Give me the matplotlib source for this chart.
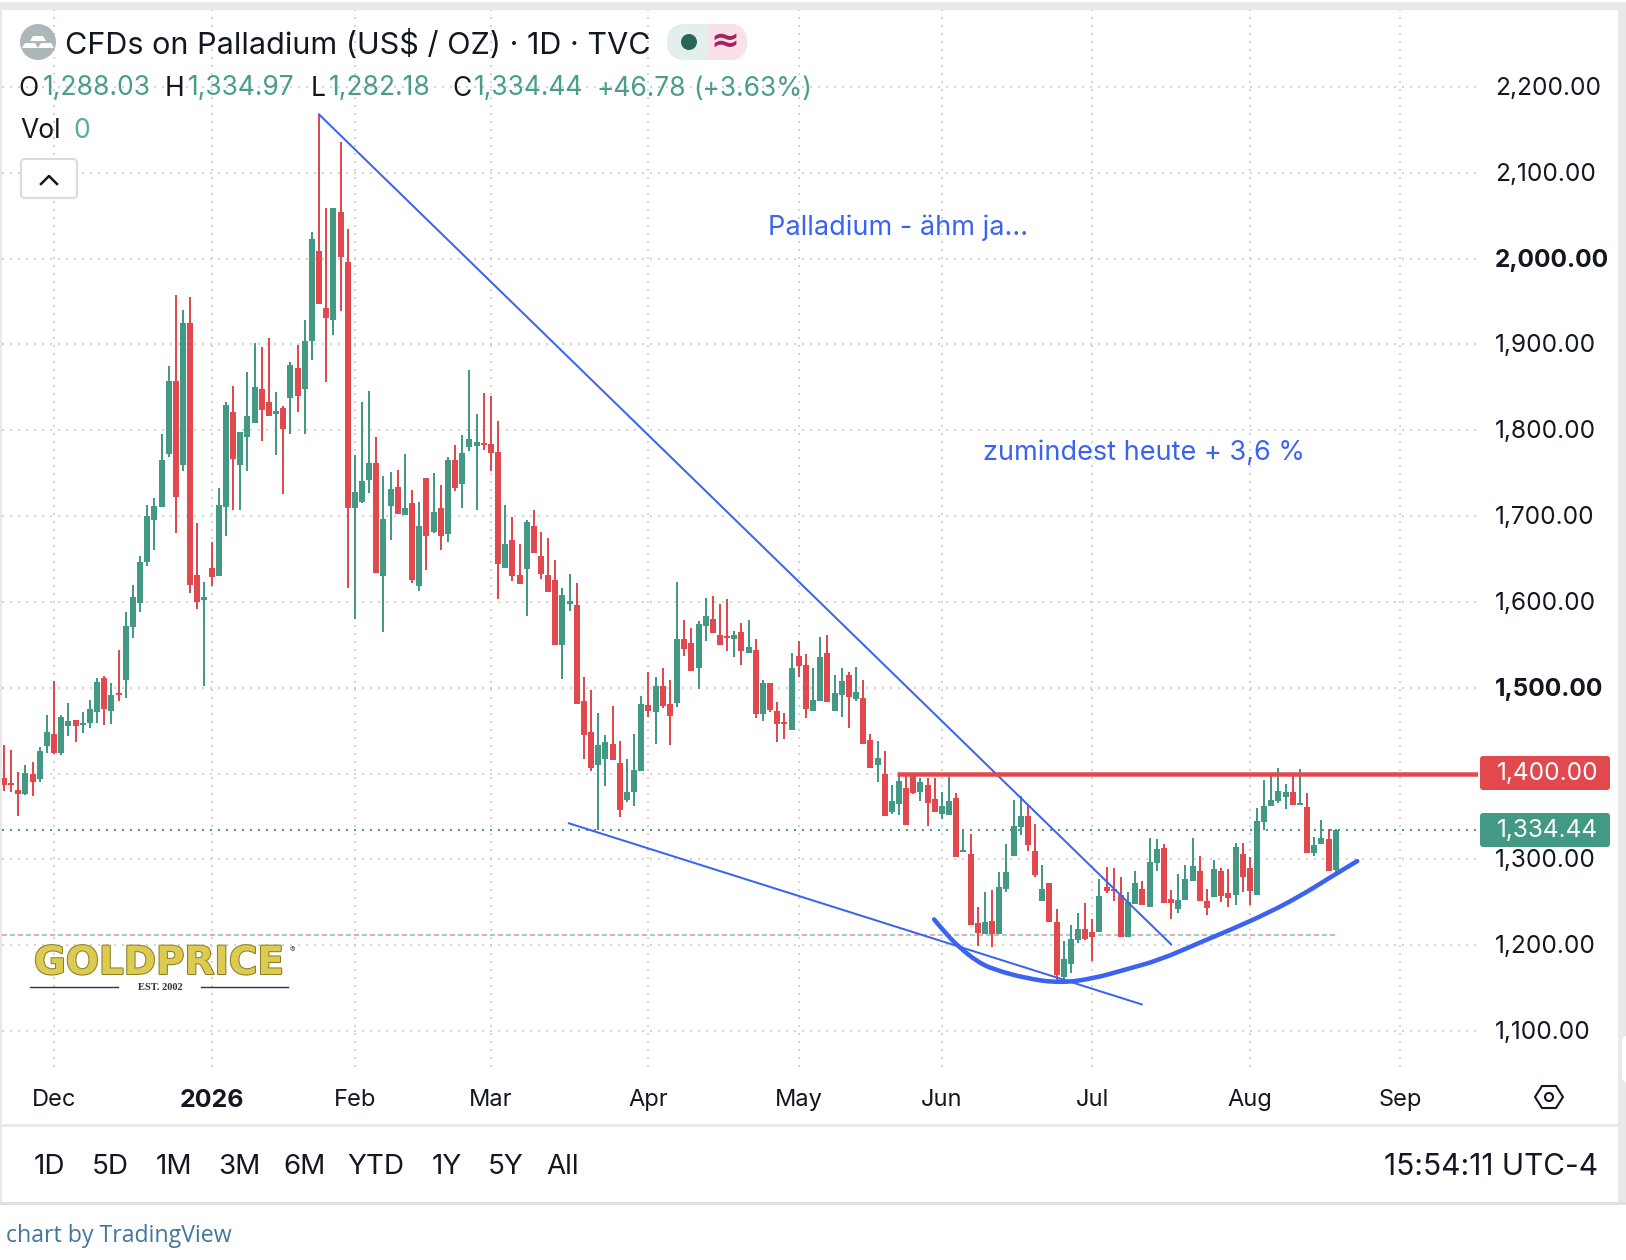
"""Palladium daily candles with trend lines, TradingView widget look."""

import matplotlib
matplotlib.use("Agg")
import matplotlib.patheffects as pe
import matplotlib.pyplot as plt
import matplotlib.transforms as mtransforms
import numpy as np
from matplotlib.patches import Circle, FancyBboxPatch, PathPatch, Polygon, Rectangle
from matplotlib.path import Path

plt.rcParams["font.family"] = ["Inter", "DejaVu Sans"]

# ---------------------------------------------------------------------------
# Data (bar index, prices in US$/oz)
# ---------------------------------------------------------------------------
opens = [
    1395, 1389, 1381, 1376, 1399, 1394, 1432, 1446, 1424, 1455,
    1462, 1456, 1459, 1472, 1511, 1473, 1494, 1509, 1571, 1599,
    1646, 1695, 1711, 1772, 1857, 1760, 1925, 1631, 1602, 1639,
    1630, 1711, 1821, 1759, 1792, 1809, 1848, 1833, 1819, 1826,
    1838, 1873, 1848, 1904, 2009, 1943, 1928, 2054, 1996, 1709,
    1716, 1742, 1762, 1630, 1712, 1734, 1701, 1715, 1619, 1744,
    1681, 1709, 1679, 1765, 1737, 1780, 1782, 1785, 1784, 1775,
    1640, 1672, 1631, 1638, 1688, 1653, 1631, 1626, 1550, 1597,
    1596, 1484, 1448, 1410, 1417, 1434, 1412, 1369, 1378, 1403,
    1480, 1472, 1502, 1481, 1482, 1557, 1552, 1523, 1572, 1580,
    1562, 1560, 1557, 1565, 1541, 1544, 1469, 1505, 1473, 1460,
    1451, 1537, 1527, 1473, 1484, 1541, 1473, 1492, 1515, 1487,
    1488, 1439, 1410, 1399, 1355, 1364, 1383, 1397, 1379, 1387,
    1370, 1353, 1352, 1371, 1308, 1306, 1226, 1213, 1228, 1213,
    1266, 1304, 1338, 1350, 1310, 1251, 1272, 1227, 1163, 1178,
    1206, 1219, 1215, 1215, 1268, 1265, 1259, 1209, 1248, 1265,
    1245, 1296, 1313, 1254, 1242, 1253, 1275, 1286, 1251, 1256,
    1286, 1261, 1259, 1306, 1290, 1258, 1343, 1362, 1368, 1373,
    1378, 1363, 1361, 1307, 1318, 1324, 1288.03,
]
highs = [
    1433, 1427, 1402, 1410, 1414, 1431, 1468, 1508, 1468, 1482,
    1462, 1472, 1486, 1511, 1514, 1505, 1544, 1588, 1620, 1653,
    1713, 1721, 1796, 1875, 1958, 1940, 1955, 1692, 1623, 1670,
    1733, 1833, 1852, 1798, 1868, 1902, 1897, 1908, 1844, 1828,
    1879, 1899, 1929, 2031, 2168, 2059, 2059, 2136, 2035, 1771,
    1833, 1846, 1792, 1747, 1751, 1754, 1772, 1730, 1716, 1744,
    1750, 1736, 1769, 1783, 1795, 1870, 1819, 1843, 1840, 1811,
    1713, 1699, 1668, 1695, 1707, 1682, 1674, 1649, 1616, 1632,
    1622, 1512, 1497, 1471, 1445, 1479, 1438, 1417, 1446, 1490,
    1518, 1512, 1523, 1509, 1623, 1579, 1569, 1578, 1604, 1607,
    1597, 1603, 1566, 1575, 1579, 1557, 1509, 1505, 1483, 1471,
    1541, 1554, 1539, 1523, 1559, 1561, 1515, 1523, 1518, 1524,
    1509, 1446, 1438, 1426, 1387, 1399, 1397, 1398, 1395, 1395,
    1395, 1378, 1396, 1377, 1335, 1330, 1244, 1262, 1264, 1285,
    1318, 1369, 1374, 1363, 1341, 1293, 1273, 1242, 1205, 1223,
    1237, 1249, 1231, 1277, 1291, 1290, 1279, 1262, 1287, 1275,
    1325, 1324, 1318, 1264, 1283, 1294, 1325, 1304, 1265, 1299,
    1290, 1289, 1319, 1319, 1303, 1360, 1392, 1398, 1406, 1388,
    1400, 1405, 1377, 1326, 1346, 1335, 1334.97,
]
lows = [
    1380, 1378, 1350, 1375, 1374, 1390, 1424, 1423, 1422, 1444,
    1437, 1447, 1453, 1459, 1456, 1458, 1484, 1488, 1558, 1588,
    1642, 1660, 1711, 1769, 1680, 1753, 1610, 1592, 1502, 1618,
    1630, 1677, 1707, 1707, 1752, 1809, 1787, 1817, 1771, 1726,
    1796, 1821, 1796, 1882, 1947, 1856, 1911, 1939, 1616, 1580,
    1715, 1727, 1634, 1565, 1672, 1702, 1701, 1622, 1613, 1637,
    1680, 1661, 1670, 1729, 1709, 1776, 1707, 1777, 1752, 1603,
    1640, 1624, 1621, 1583, 1657, 1627, 1612, 1550, 1510, 1589,
    1481, 1417, 1403, 1334, 1386, 1416, 1349, 1367, 1362, 1403,
    1466, 1434, 1476, 1433, 1477, 1537, 1520, 1498, 1555, 1564,
    1550, 1543, 1536, 1527, 1541, 1465, 1461, 1472, 1437, 1440,
    1451, 1512, 1465, 1473, 1484, 1483, 1473, 1466, 1453, 1485,
    1434, 1406, 1390, 1350, 1353, 1352, 1340, 1376, 1368, 1339,
    1355, 1347, 1352, 1303, 1308, 1224, 1199, 1213, 1198, 1213,
    1262, 1304, 1328, 1310, 1279, 1251, 1227, 1158, 1160, 1167,
    1202, 1206, 1181, 1215, 1261, 1251, 1210, 1209, 1248, 1247,
    1245, 1286, 1249, 1230, 1237, 1253, 1275, 1251, 1235, 1256,
    1250, 1244, 1247, 1262, 1247, 1258, 1334, 1362, 1366, 1359,
    1363, 1363, 1307, 1304, 1318, 1286, 1282.18,
]
closes = [
    1387, 1387, 1376, 1401, 1390, 1426, 1448, 1424, 1466, 1461,
    1455, 1459, 1475, 1507, 1475, 1491, 1491, 1572, 1606, 1646,
    1700, 1712, 1765, 1857, 1722, 1925, 1620, 1600, 1606, 1629,
    1713, 1829, 1766, 1798, 1817, 1850, 1824, 1817, 1822, 1802,
    1876, 1840, 1904, 2023, 1947, 1931, 2059, 2002, 1709, 1728,
    1741, 1762, 1634, 1696, 1731, 1702, 1709, 1625, 1688, 1677,
    1705, 1677, 1765, 1733, 1773, 1790, 1786, 1783, 1773, 1644,
    1667, 1630, 1621, 1693, 1657, 1633, 1612, 1550, 1608, 1601,
    1481, 1445, 1407, 1433, 1437, 1416, 1357, 1379, 1404, 1481,
    1473, 1502, 1479, 1467, 1557, 1545, 1520, 1574, 1583, 1564,
    1550, 1558, 1562, 1543, 1547, 1469, 1505, 1474, 1458, 1458,
    1523, 1525, 1475, 1486, 1536, 1483, 1494, 1508, 1489, 1495,
    1434, 1406, 1418, 1350, 1368, 1391, 1340, 1377, 1390, 1366,
    1355, 1362, 1368, 1303, 1311, 1224, 1214, 1227, 1213, 1268,
    1285, 1339, 1350, 1317, 1282, 1266, 1227, 1165, 1184, 1207,
    1219, 1207, 1210, 1257, 1263, 1263, 1210, 1250, 1273, 1247,
    1297, 1312, 1249, 1249, 1253, 1277, 1292, 1251, 1243, 1289,
    1257, 1255, 1314, 1279, 1263, 1345, 1362, 1369, 1380, 1378,
    1363, 1366, 1307, 1317, 1325, 1286, 1334.44,
]

month_pos = [7, 29, 49, 68, 90, 111, 131, 152, 174, 195]
month_labels = ["Dec", "2026", "Feb", "Mar", "Apr", "May", "Jun", "Jul", "Aug", "Sep"]
price_ticks = [1100, 1200, 1300, 1400, 1500, 1600, 1700, 1800, 1900, 2000, 2100, 2200]
bold_ticks = [1500, 2000]

# hand-drawn chart objects: (bar index, price)
falling_line_x, falling_line_y = [44, 163], [2168, 1201]
support_line_x, support_line_y = [78.9, 158.9], [1342, 1131]
resistance_start, resistance_price = 124.7, 1400.0
prev_close_price, prev_close_end = 1212, 186.2
last_price = 1334.44
arc_x = [129.9, 131.7, 133.5, 135.9, 138.1, 142.9, 147.5, 152.1, 156.8, 161.5, 167.0, 171.6, 176.4, 181.0, 185.6, 189.0]
arc_y = [1230, 1212, 1197, 1181, 1172, 1161, 1156, 1161, 1172, 1183, 1203, 1219, 1237, 1257, 1281, 1298]

range_buttons = ["1D", "5D", "1M", "3M", "6M", "YTD", "1Y", "5Y", "All"]
range_button_x = [49, 110, 174, 239, 304, 376, 447, 506, 563]

GREEN = "#449984"
RED = "#e1494f"
BLUE = "#3b63f0"
TEXT = "#131722"
TEXT_GREEN = "#4a9d8a"
GRID = "#d4d4d4"

W, H = 1626, 1260
PX = 72 / 100  # one pixel in points

fig = plt.figure(figsize=(W / 100, H / 100), dpi=100, facecolor="white")

# ---------------------------------------------------------------------------
# Price pane
# ---------------------------------------------------------------------------
pane_l, pane_r, pane_t, pane_b = 2, 1478, 10, 1067
ax = fig.add_axes([pane_l / W, 1 - pane_b / H, (pane_r - pane_l) / W, (pane_b - pane_t) / H])
ax.set_xlim((pane_l - 4) / 7.16, (pane_r - 4) / 7.16)
ax.set_ylim(1100 - 36 * 1.1652, 1100 + 1021 * 1.1652)
for side in ax.spines.values():
    side.set_visible(False)

dots = (0, (1, 3))
ax.set_axisbelow(True)
ax.grid(True, color=GRID, linewidth=2 * PX, linestyle=dots)

ax.yaxis.tick_right()
ax.set_yticks(price_ticks)
ax.set_yticklabels(["" if p == 1400 else f"{p:,.2f}" for p in price_ticks])
ax.tick_params(axis="y", length=0, pad=12, labelsize=17.6, labelcolor=TEXT)
lift = mtransforms.ScaledTranslation(0, 1 / 100, fig.dpi_scale_trans)
for tick, p in zip(ax.get_yticklabels(), price_ticks):
    tick.set_transform(tick.get_transform() + lift)
    if p in bold_ticks:
        tick.set_fontweight("bold")

ax.set_xticks(month_pos)
ax.set_xticklabels(month_labels)
ax.tick_params(axis="x", length=0, pad=15.8, labelsize=17, labelcolor=TEXT)
ax.get_xticklabels()[1].set_fontweight("bold")
ax.get_xticklabels()[1].set_fontsize(18)

bars = np.arange(len(opens))
o, h, l, c = map(np.array, (opens, highs, lows, closes))
up = c >= o
colors = np.where(up, GREEN, RED)

ax.vlines(bars, l, h, colors=colors, linewidth=2 * PX, zorder=3)
body_low = np.minimum(o, c)
body_height = np.maximum(np.abs(c - o), 2.4)
ax.bar(bars, body_height, bottom=body_low, width=0.84, color=colors, linewidth=0, zorder=3)

ax.axhline(last_price, color=GREEN, linewidth=2 * PX, linestyle=dots, zorder=2)
ax.plot([ax.get_xlim()[0], prev_close_end], [prev_close_price] * 2, color="#eba8a8",
        linewidth=2 * PX, linestyle=(0, (2.5, 5.5)), zorder=2)
ax.plot([ax.get_xlim()[0], prev_close_end], [prev_close_price] * 2, color="#9dd2cb",
        linewidth=2 * PX, linestyle=(4, (2.5, 5.5)), zorder=2)

ax.plot(falling_line_x, falling_line_y, color=BLUE, linewidth=2 * PX, zorder=4)
ax.plot(support_line_x, support_line_y, color=BLUE, linewidth=2 * PX, zorder=4)
ax.plot([resistance_start, ax.get_xlim()[1]], [resistance_price] * 2, color=RED,
        linewidth=4.5 * PX, solid_capstyle="butt", zorder=4)

# brush stroke: read points act as quadratic control points
arc_pts = np.column_stack([arc_x, arc_y])
arc_verts = [arc_pts[0]]
arc_codes = [Path.MOVETO]
for k in range(1, len(arc_pts) - 1):
    end = arc_pts[-1] if k == len(arc_pts) - 2 else (arc_pts[k] + arc_pts[k + 1]) / 2
    arc_verts += [arc_pts[k], end]
    arc_codes += [Path.CURVE3, Path.CURVE3]
ax.add_patch(PathPatch(Path(arc_verts, arc_codes), fill=False, edgecolor=BLUE,
                       linewidth=4.5 * PX, capstyle="round", joinstyle="round", zorder=4))

# ---------------------------------------------------------------------------
# Widget furniture, in pixel coordinates
# ---------------------------------------------------------------------------
ui = fig.add_axes([0, 0, 1, 1], zorder=5)
ui.set_xlim(0, W)
ui.set_ylim(H, 0)
ui.axis("off")
ui.patch.set_alpha(0)

ui.add_patch(Rectangle((0, 2), W, 8, color="#e9e9e9", linewidth=0))
ui.add_patch(Rectangle((0, 2), 2, 1201, color="#e9e9e9", linewidth=0))
ui.add_patch(Rectangle((1618, 2), 8, 1203, color="#e9e9e9", linewidth=0))
ui.add_patch(FancyBboxPatch((1622, 1036), 30, 46, boxstyle="round,pad=0,rounding_size=5",
                            facecolor="white", linewidth=0, clip_on=True))
ui.add_patch(Rectangle((2, 1124), 1616, 3, color="#e9e9e9", linewidth=0))
ui.add_patch(Rectangle((0, 1202), W, 3, color="#e0e0e0", linewidth=0))


def label(x, y, s, size=17, color=TEXT, ha="left", **kw):
    ui.text(x, y, s, fontsize=size, color=color, ha=ha, va="center", **kw)


# symbol header
ui.add_patch(Circle((38, 42), 18, color="#adb6b8", linewidth=0))
ui.add_patch(Polygon([[33, 36], [43, 36], [46, 41], [30, 41]], color="white", linewidth=0))
ui.add_patch(Polygon([[25, 43], [35, 43], [38, 48], [22, 48]], color="white", linewidth=0))
ui.add_patch(Polygon([[41, 43], [51, 43], [54, 48], [38, 48]], color="white", linewidth=0))
label(65, 45.5, "CFDs on Palladium (US$ / OZ) · 1D · TVC", size=22)

pill = FancyBboxPatch((667, 24), 80, 36, boxstyle="round,pad=0,rounding_size=18",
                      facecolor="#e3efed", linewidth=0)
ui.add_patch(pill)
pink = Rectangle((707, 24), 40, 36, facecolor="#fae0e8", linewidth=0)
ui.add_patch(pink)
pink.set_clip_path(pill)
ui.add_patch(Circle((689, 42), 8, color="#2a6558", linewidth=0))
label(725, 42, "≈", size=25, color="#a3245f", ha="center", fontweight="bold", family="DejaVu Sans")

# OHLC row
for x, s, col in [
    (18, "O", TEXT), (43, "1,288.03", TEXT_GREEN), (165, "H", TEXT), (188, "1,334.97", TEXT_GREEN),
    (311, "L", TEXT), (329, "1,282.18", TEXT_GREEN), (452, "C", TEXT), (474, "1,334.44", TEXT_GREEN),
    (596, "+46.78", TEXT_GREEN), (693, "(+3.63%)", TEXT_GREEN),
]:
    label(x, 88.5, s, size=19, color=col)
label(20, 131, "Vol", size=19)
label(73, 131, "0", size=19, color="#58ab9d")

ui.add_patch(FancyBboxPatch((21, 159), 56, 39, boxstyle="round,pad=0,rounding_size=4",
                            facecolor="white", edgecolor="#dcdcdc", linewidth=1.5))
ui.plot([41, 49, 57], [184, 176, 184], color=TEXT, linewidth=1.8)

# drawn notes
label(768, 228, "Palladium - ähm ja...", size=19.5, color=BLUE)
label(983, 453, "zumindest heute + 3,6 %", size=19.5, color=BLUE)

# price tags
for y0, txt, col in [(756, "1,400.00", RED), (813, "1,334.44", GREEN)]:
    ui.add_patch(FancyBboxPatch((1480, y0), 130, 34, boxstyle="round,pad=0,rounding_size=3",
                                facecolor=col, linewidth=0))
    label(1598, y0 + 17.5, txt, size=17.6, color="white", ha="right")

# vendor logo
label(159, 963, "GOLDPRICE", size=28, color="#dccb52", ha="center", fontweight="bold",
      family="DejaVu Sans",
      path_effects=[pe.withStroke(linewidth=1.5, foreground="#8d7f22")])
label(292, 950, "®", size=6, color="#555555", ha="center")
ui.plot([30, 118], [987, 987], color="#333333", linewidth=1)
ui.plot([201, 288], [987, 987], color="#333333", linewidth=1)
label(160, 987, "EST. 2002", size=7.5, color="#333333", ha="center", family="Liberation Serif",
      fontweight="bold")

# hexagon settings icon
hx, hy = 1549, 1097
ui.add_patch(Polygon([[hx - 14, hy], [hx - 7, hy - 11], [hx + 7, hy - 11], [hx + 14, hy],
                      [hx + 7, hy + 11], [hx - 7, hy + 11]], closed=True, fill=False,
                     edgecolor=TEXT, linewidth=1.5))
ui.add_patch(Circle((hx, hy), 4, fill=False, edgecolor=TEXT, linewidth=1.5))

# range selector
for x, s in zip(range_button_x, range_buttons):
    label(x, 1167, s, size=20, ha="center")
label(1598, 1167, "15:54:11 UTC-4", size=21.5, ha="right")
label(6, 1236, "chart by TradingView", size=16.7, color="#42769c", family="Open Sans")

fig.savefig("out.png", dpi=100)
